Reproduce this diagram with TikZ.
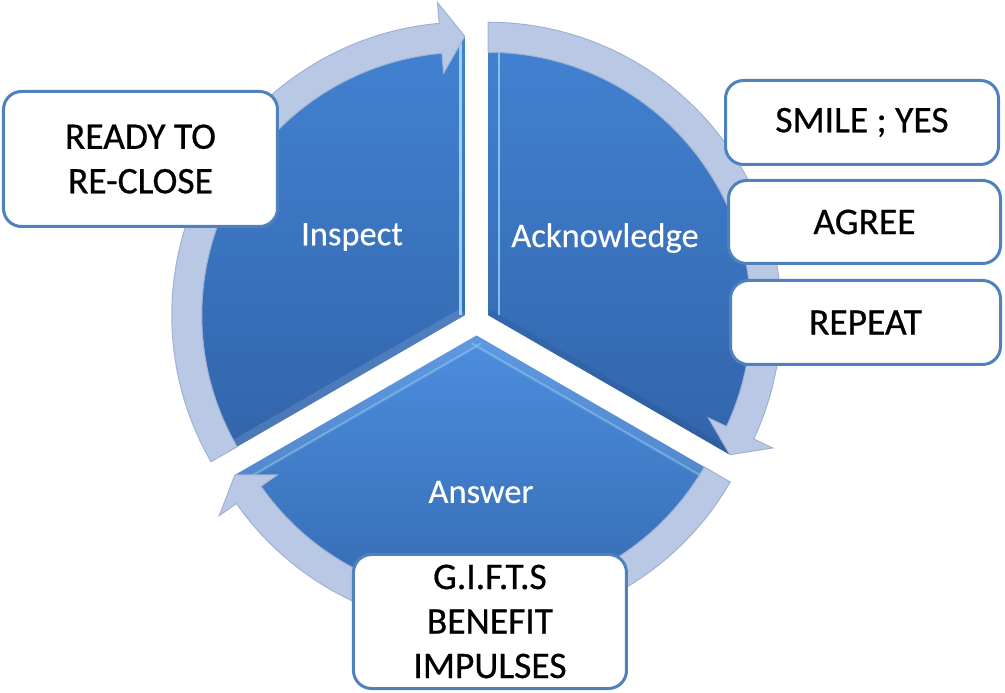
\documentclass[tikz,border=0pt]{standalone}
\usepackage{fontspec}
\setmainfont{Carlito}
\newfontfamily\boxfont{Carlito}[FakeBold=0.6]
\newfontfamily\segfont{Carlito}[FakeBold=0.25]
\definecolor{segtop}{RGB}{66,130,210}
\definecolor{segbottom}{RGB}{50,100,170}
\definecolor{segtoplight}{RGB}{76,142,222}
\definecolor{bandfill}{RGB}{185,200,228}
\definecolor{bandline}{RGB}{160,178,212}
\definecolor{boxline}{RGB}{79,129,189}
\definecolor{glint}{RGB}{150,212,248}
\tikzset{
  segment/.style={top color=segtop, bottom color=segbottom},
  segshadow/.style={fill=black, opacity=0.12, shift={(2,-3)}},
  band/.style={fill=bandfill, draw=bandline, line width=1pt},
  textbox/.style={draw=boxline, line width=3pt, fill=white, rounded corners=18pt,
    align=center, inner sep=0pt, font=\boxfont\fontsize{37.5}{44.5}\selectfont},
  seglabel/.style={text=white, font=\segfont\fontsize{34.5}{40}\selectfont}
}
\begin{document}
\begin{tikzpicture}[x=1pt,y=1pt]
  \useasboundingbox (-476.5,-371) rectangle (528.5,322);
  \coordinate (ci) at (-11.7,6.75);
  \coordinate (ca) at (11.7,6.75);
  \coordinate (cw) at (0,-13.5);
  % shadows of the segments
  \fill[segshadow] (ci) -- ++(90:278) arc[start angle=90,end angle=210,radius=278] -- cycle;
  \fill[segshadow] (ca) -- ++(90:278) arc[start angle=90,end angle=-30,radius=278] -- cycle;
  \fill[segshadow] (cw) -- ++(210:278) arc[start angle=210,end angle=330,radius=278] -- cycle;
  % Inspect
  \shade[segment] (ci) -- ++(90:278) arc[start angle=90,end angle=210,radius=278] -- cycle;
  \begin{scope}
    \clip (ci) -- ++(90:278) arc[start angle=90,end angle=210,radius=278] -- cycle;
    \draw[white, opacity=0.12, line width=16pt] (ci) -- ++(210:290);
    \draw[glint, line width=3pt] ([shift={(180:4)}]ci) -- ++(90:290);
  \end{scope}
  % Acknowledge
  \shade[segment] (ca) -- ++(90:278) arc[start angle=90,end angle=-30,radius=278] -- cycle;
  \begin{scope}
    \clip (ca) -- ++(90:278) arc[start angle=90,end angle=-30,radius=278] -- cycle;
    \draw[black, opacity=0.06, line width=12pt] (ca) -- ++(-30:290);
    \draw[glint, opacity=0.8, line width=2pt] ([shift={(0:11)}]ca) -- ++(90:290);
  \end{scope}
  % Answer
  \shade[segment, top color=segtoplight] (cw) -- ++(210:278) arc[start angle=210,end angle=330,radius=278] -- cycle;
  \begin{scope}
    \clip (cw) -- ++(210:278) arc[start angle=210,end angle=330,radius=278] -- cycle;
    \draw[white, opacity=0.10, line width=22pt] (cw) -- ++(210:290) (cw) -- ++(330:290);
    \draw[glint, opacity=0.5, line width=1.5pt] ([shift={(300:9)}]cw) -- ++(210:290);
    \draw[glint, opacity=0.5, line width=1.5pt] ([shift={(240:9)}]cw) -- ++(330:290);
  \end{scope}
  % circular arrows
  \draw[band, shift={(ci)}] (210:293) arc[start angle=210,end angle=95,radius=293]
    -- (95:314) -- (90:279) -- (95:243) -- (95:263)
    arc[start angle=95,end angle=210,radius=263] -- cycle;
  \draw[band, shift={(ca)}] (90:293) arc[start angle=90,end angle=-25,radius=293]
    -- (-25:314) -- (-30:279) -- (-25:243) -- (-25:263)
    arc[start angle=-25,end angle=90,radius=263] -- cycle;
  \draw[band, shift={(cw)}] (330:293) arc[start angle=330,end angle=215,radius=293]
    -- (215:314) -- (210:279) -- (215:243) -- (215:263)
    arc[start angle=215,end angle=330,radius=263] -- cycle;
  % labels
  \node[seglabel] (inspect) at (-124.5,85) {Inspect};
  \node[seglabel] (acknowledge) at (128.5,84) {Acknowledge};
  \node[seglabel] (answer) at (4.5,-170) {Answer};
  % boxes
  \node[textbox, minimum width=274pt, minimum height=135pt] (reclose) at (-336,163) {READY TO\\RE-CLOSE};
  \node[textbox, minimum width=273pt, minimum height=84pt] (smile) at (385.5,199.5) {SMILE ; YES};
  \node[textbox, minimum width=272pt, minimum height=83pt] (agree) at (388,100) {AGREE};
  \node[textbox, minimum width=270pt, minimum height=84pt] (repeat) at (389,-0.5) {REPEAT};
  \node[textbox, minimum width=273pt, minimum height=134pt] (gifts) at (13.5,-299.5) {G.I.F.T.S\\BENEFIT\\IMPULSES};
\end{tikzpicture}
\end{document}
